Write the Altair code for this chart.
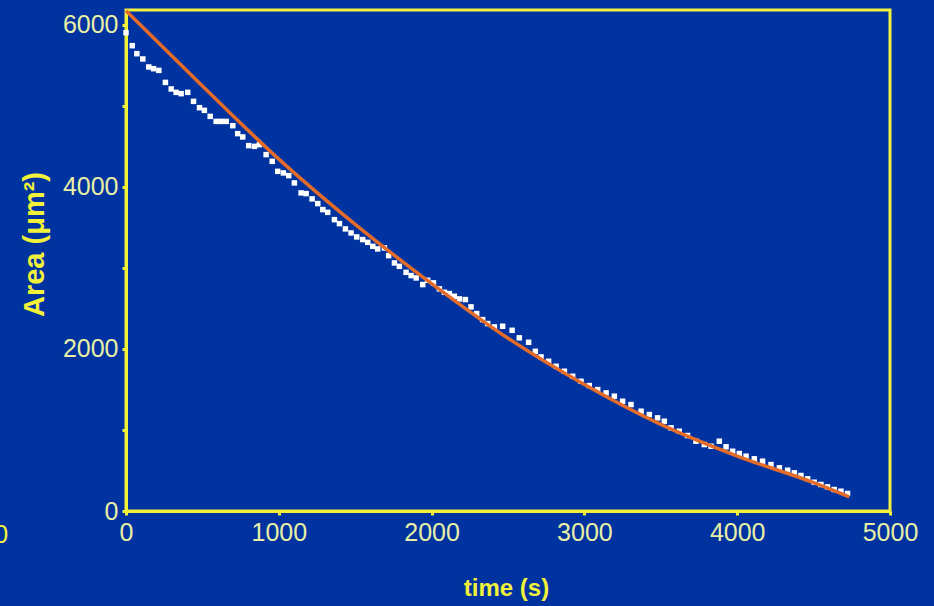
import altair as alt
import pandas as pd

# measured area (white squares)
time_s = [0, 41, 71, 110, 149, 180, 215, 258, 296, 328, 361, 404, 442, 481, 513, 551,
          590, 623, 656, 699, 731, 764, 803, 841, 873, 917, 957, 993, 1030, 1065, 1102,
          1146, 1179, 1218, 1255, 1288, 1320, 1364, 1397, 1436, 1473, 1510, 1549, 1582,
          1615, 1647, 1691, 1719, 1757, 1789, 1833, 1866, 1899, 1942, 1974, 2012, 2051,
          2084, 2116, 2149, 2182, 2221, 2258, 2295, 2334, 2367, 2411, 2465, 2527, 2574,
          2635, 2679, 2716, 2766, 2815, 2869, 2923, 2978, 3032, 3087, 3142, 3196, 3250,
          3305, 3371, 3425, 3479, 3523, 3567, 3621, 3675, 3730, 3785, 3829, 3883, 3927,
          3970, 4014, 4058, 4112, 4166, 4221, 4276, 4330, 4374, 4417, 4461, 4504, 4548,
          4591, 4635, 4679, 4722]
area = [5900, 5740, 5641, 5576, 5477, 5456, 5435, 5287, 5206, 5164, 5148, 5164, 5053,
        4975, 4942, 4868, 4806, 4806, 4806, 4753, 4655, 4614, 4507, 4498, 4519, 4396,
        4313, 4190, 4170, 4137, 4047, 3924, 3915, 3850, 3792, 3718, 3684, 3594, 3545,
        3480, 3430, 3381, 3348, 3314, 3265, 3233, 3245, 3150, 3060, 3018, 2944, 2904,
        2875, 2793, 2846, 2814, 2740, 2698, 2682, 2649, 2616, 2608, 2518, 2435, 2361,
        2312, 2271, 2279, 2229, 2136, 2081, 1970, 1901, 1847, 1785, 1724, 1662, 1600,
        1547, 1498, 1457, 1416, 1354, 1313, 1231, 1190, 1149, 1107, 1026, 984, 931, 861,
        820, 799, 861, 792, 737, 709, 676, 644, 614, 573, 533, 503, 471, 438, 397, 355,
        327, 298, 265, 244, 216]

# fitted curve (orange line)
fit_time = [0, 500, 1000, 1500, 2000, 2500, 3000, 3500, 4000, 4500, 4733]
fit_area = [6170, 5244, 4340, 3535, 2805, 2131, 1560, 1068, 678, 350, 175]

stray_text = ["0"]

x_ticks = [0, 1000, 2000, 3000, 4000, 5000]
y_ticks = [0, 1000, 2000, 3000, 4000, 5000, 6000]

BG = "#0033A0"
AXIS_YELLOW = "#F2F23A"
LABEL_YELLOW = "#E9F0A6"
FONT = "Liberation Sans"

pts = pd.DataFrame({"t": time_s, "a": area})
fit = pd.DataFrame({"t": fit_time, "a": fit_area})
stray = pd.DataFrame({"s": stray_text})

x_scale = alt.Scale(domain=[0, 5000], nice=False, zero=False)
y_scale = alt.Scale(domain=[0, 6180], nice=False, zero=False)

x_axis = alt.Axis(
    title="time (s)", values=x_ticks, format="d", grid=False,
    domainColor=AXIS_YELLOW, domainWidth=3, tickColor=AXIS_YELLOW, tickWidth=3,
    tickSize=4, labelColor=LABEL_YELLOW, labelFontSize=25, labelFont=FONT,
    labelPadding=5, labelFlush=False, labelOverlap=False,
    titleColor=AXIS_YELLOW, titleFontSize=24, titleFont=FONT,
    titleFontWeight="bold", titleX=380, titleY=77, titleBaseline="middle",
)
y_axis = alt.Axis(
    title="Area (μm²)", values=y_ticks, format="d", grid=False,
    labelExpr="datum.value % 2000 == 0 ? datum.label : ''",
    domainColor=AXIS_YELLOW, domainWidth=3, tickColor=AXIS_YELLOW, tickWidth=3,
    tickSize=4, labelColor=LABEL_YELLOW, labelFontSize=25, labelFont=FONT,
    labelPadding=4, labelFlush=False, labelOverlap=False,
    titleColor=AXIS_YELLOW, titleFontSize=29, titleFont=FONT,
    titleFontWeight="bold", titleX=-92, titleY=234, titleAngle=-90,
    titleAlign="center", titleBaseline="middle",
)

points = alt.Chart(pts).mark_square(size=30, color="white", opacity=1).encode(
    x=alt.X("t:Q", scale=x_scale, axis=x_axis),
    y=alt.Y("a:Q", scale=y_scale, axis=y_axis),
)

curve = alt.Chart(fit).mark_line(color="#E46C2B", strokeWidth=3.5, interpolate="monotone").encode(
    x=alt.X("t:Q", scale=x_scale),
    y=alt.Y("a:Q", scale=y_scale),
)

stray_mark = alt.Chart(stray).mark_text(
    color=AXIS_YELLOW, fontSize=26, font=FONT, align="center", baseline="middle"
).encode(
    text="s:N", x=alt.value(-125), y=alt.value(525)
)

chart = alt.layer(points, curve, stray_mark).properties(
    width=764, height=501,
    background=BG,
    padding={"left": 126, "top": 10, "right": 44, "bottom": 95},
    autosize=alt.AutoSizeParams(type="none"),
).configure_view(
    stroke=AXIS_YELLOW, strokeWidth=3, fill=BG
)

chart.save("out.html", embed_options={"renderer": "svg", "actions": False})
